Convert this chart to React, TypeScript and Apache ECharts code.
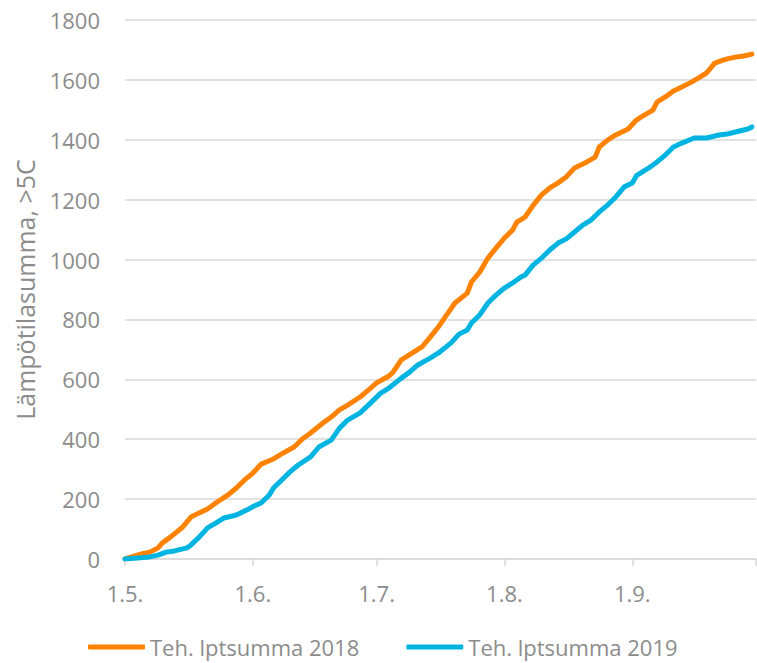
import React, { useEffect, useRef } from "react";
import * as echarts from "echarts";

// Day offsets from 1.5. (May 1) and cumulative effective temperature sums (>5C)
const days2018 = [0, 4, 6, 8, 9, 11, 14, 16, 18, 20, 22, 25, 27, 29, 31, 33, 36, 38, 41, 43, 45, 48, 50, 52, 54, 57, 59, 61, 64, 65, 67, 70, 72, 74, 76, 78, 80, 83, 84, 86, 88, 90, 92, 94, 95, 97, 99, 101, 103, 105, 107, 109, 112, 114, 115, 117, 119, 122, 124, 126, 128, 129, 131, 133, 135, 137, 139, 141, 143, 145, 146, 148, 150, 152];
const values2018 = [0, 17, 23, 37, 53, 73, 107, 140, 154, 167, 187, 214, 237, 264, 287, 317, 334, 351, 374, 401, 421, 454, 474, 498, 514, 541, 564, 588, 611, 624, 665, 691, 708, 741, 775, 815, 855, 888, 925, 958, 1005, 1039, 1072, 1099, 1125, 1142, 1182, 1216, 1239, 1256, 1276, 1306, 1326, 1342, 1376, 1399, 1416, 1436, 1466, 1483, 1499, 1526, 1543, 1563, 1576, 1590, 1606, 1623, 1656, 1666, 1670, 1676, 1680, 1686];

const days2019 = [0, 6, 8, 10, 12, 15, 16, 18, 20, 22, 24, 27, 30, 31, 33, 35, 36, 38, 40, 42, 45, 47, 50, 52, 54, 57, 59, 62, 64, 67, 69, 71, 74, 76, 79, 81, 83, 84, 86, 88, 90, 92, 94, 96, 97, 99, 101, 103, 105, 107, 109, 111, 113, 115, 117, 119, 121, 123, 124, 127, 129, 131, 133, 135, 138, 141, 144, 146, 148, 151, 152];
const values2019 = [0, 7, 13, 23, 27, 37, 47, 73, 104, 120, 137, 147, 167, 175, 187, 214, 237, 264, 291, 314, 341, 374, 397, 437, 464, 488, 514, 554, 571, 604, 624, 648, 671, 688, 721, 751, 765, 788, 815, 855, 882, 905, 922, 942, 948, 982, 1005, 1032, 1055, 1069, 1092, 1115, 1132, 1159, 1182, 1209, 1242, 1256, 1280, 1306, 1326, 1349, 1376, 1389, 1406, 1406, 1416, 1419, 1426, 1436, 1443];

const tickDays = [0, 31, 61, 92, 123, 153];
const labelDays = [0, 31, 61, 92, 123];
const tickLabels = ["1.5.", "1.6.", "1.7.", "1.8.", "1.9."];

const seriesNames = ["Teh. lptsumma 2018", "Teh. lptsumma 2019"];
const colors = ["#FF8200", "#00B4E1"];

const FONT = "'Open Sans', 'Noto Sans', sans-serif";
const TEXT = "#8C8C8C";
const GRID = "#D9D9D9";

export default function App() {
  const ref = useRef<HTMLDivElement>(null);
  useEffect(() => {
    document.body.style.margin = "0";
    if (!ref.current) return;
    const chart = echarts.init(ref.current, undefined, { renderer: "svg" });
    const zip = (d: number[], v: number[]) => d.map((x, i) => [x, v[i]]);
    chart.setOption({
      animation: false,
      textStyle: { fontFamily: FONT },
      grid: { left: 125, right: 1, top: 20, bottom: 104 },
      legend: {
        left: 83,
        top: 631,
        icon: "roundRect",
        itemWidth: 57,
        itemHeight: 5,
        itemGap: 47,
        textStyle: { color: TEXT, fontSize: 22, fontFamily: FONT },
        data: seriesNames,
      },
      xAxis: {
        type: "value",
        min: 0,
        max: 153,
        axisLine: { show: true, lineStyle: { color: GRID, width: 1.5 } },
        axisTick: {
          show: true,
          length: 7,
          customValues: tickDays,
          lineStyle: { color: GRID, width: 1.5 },
        },
        splitLine: { show: false },
        axisLabel: {
          customValues: labelDays,
          formatter: (v: number) => tickLabels[labelDays.indexOf(v)] ?? "",
          color: TEXT,
          fontSize: 22,
          fontFamily: FONT,
          margin: 23,
        },
      },
      yAxis: {
        type: "value",
        min: 0,
        max: 1800,
        interval: 200,
        name: "Lämpötilasumma, >5C",
        nameLocation: "middle",
        nameGap: 88,
        nameTextStyle: { color: TEXT, fontSize: 25, fontFamily: FONT },
        axisLine: { show: false },
        axisTick: { show: false },
        splitLine: { lineStyle: { color: GRID, width: 1.5 } },
        axisLabel: {
          color: TEXT,
          fontSize: 22,
          fontFamily: FONT,
          margin: 25,
          formatter: (v: number) => String(v),
        },
      },
      series: [
        {
          name: seriesNames[0],
          type: "line",
          data: zip(days2018, values2018),
          showSymbol: false,
          symbol: "none",
          color: colors[0],
          lineStyle: { width: 5, color: colors[0], cap: "round", join: "round" },
        },
        {
          name: seriesNames[1],
          type: "line",
          data: zip(days2019, values2019),
          showSymbol: false,
          symbol: "none",
          color: colors[1],
          lineStyle: { width: 5, color: colors[1], cap: "round", join: "round" },
        },
      ],
    });
    return () => chart.dispose();
  }, []);
  return <div ref={ref} style={{ width: 757, height: 663 }} />;
}
